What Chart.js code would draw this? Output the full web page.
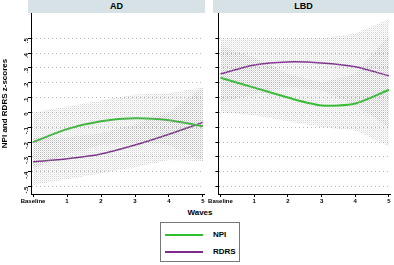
<!DOCTYPE html>
<html>
<head>
<meta charset="utf-8">
<script src="https://cdn.jsdelivr.net/npm/chart.js@4/dist/chart.umd.min.js"></script>
<style>
  body { margin: 0; background: #fff; font-family: "Liberation Sans", Arial, sans-serif; }
  #wrap { position: relative; width: 394px; height: 265px; overflow: hidden; }
  .strip {
    position: absolute; top: 0; height: 13px;
    background: #d6e2e6;
    font-weight: bold; font-size: 9px; line-height: 13px; text-align: center; color: #000;
  }
  #left { position: absolute; left: 0; top: 0; }
  #right { position: absolute; left: 207px; top: 0; }
  #waves { position: absolute; left: 170px; width: 60px; top: 208px; text-align: center; font-size: 8px; font-weight: bold; }
  #legend {
    position: absolute; left: 160px; top: 222px; width: 80px; height: 40px;
    border: 1px solid #777; box-sizing: border-box; font-size: 8px; font-weight: bold;
  }
  .item { position: absolute; left: 4px; height: 10px; line-height: 10px; }
  .item span.sw { position: absolute; left: 0; top: 4px; width: 38px; height: 2px; }
  .item span.tx { position: absolute; left: 48px; top: 0; }
</style>
</head>
<body>
<div id="wrap">
  <canvas id="left" width="207" height="205"></canvas>
  <canvas id="right" width="187" height="205"></canvas>
  <div class="strip" style="left:28px;width:177px;">AD</div>
  <div class="strip" style="left:213px;width:181px;">LBD</div>
  <div id="waves">Waves</div>
  <div id="legend">
    <div class="item" style="top:7px;"><span class="sw" style="background:#2fbf2f"></span><span class="tx">NPI</span></div>
    <div class="item" style="top:24px;"><span class="sw" style="background:#7d2a8c"></span><span class="tx">RDRS</span></div>
  </div>
</div>
<script>
// --- DATOS ---
const waves = [0, 1, 2, 3, 4, 5];
const waveLabels = ['Baseline', '1', '2', '3', '4', '5'];
const yTicks = [0.5, 0.4, 0.3, 0.2, 0.1, 0, -0.1, -0.2, -0.3, -0.4, -0.5];
const yTickLabels = ['.5', '.4', '.3', '.2', '.1', '0', '-.1', '-.2', '-.3', '-.4', '-.5'];

const adNpi = [-0.2, -0.113, -0.06, -0.04, -0.053, -0.093];
const adNpiLow = [-0.38, -0.28, -0.22, -0.2, -0.22, -0.33];
const adNpiHigh = [0.0, 0.04, 0.08, 0.12, 0.13, 0.17];
const adRdrs = [-0.333, -0.313, -0.28, -0.22, -0.147, -0.067];
const adRdrsLow = [-0.49, -0.45, -0.41, -0.37, -0.32, -0.33];
const adRdrsHigh = [-0.17, -0.17, -0.14, -0.08, 0.0, 0.17];

const lbdNpi = [0.233, 0.167, 0.1, 0.047, 0.06, 0.153];
const lbdNpiLow = [0.0, -0.02, -0.06, -0.1, -0.12, -0.23];
const lbdNpiHigh = [0.45, 0.37, 0.26, 0.2, 0.26, 0.52];
const lbdRdrs = [0.26, 0.32, 0.34, 0.333, 0.307, 0.247];
const lbdRdrsLow = [0.07, 0.12, 0.17, 0.15, 0.05, -0.1];
const lbdRdrsHigh = [0.5, 0.5, 0.5, 0.5, 0.53, 0.63];

const GREEN = '#2fbf2f';
const PURPLE = '#7d2a8c';

// patrón punteado para las bandas
function dotPattern() {
    const c = document.createElement('canvas');
    c.width = 2; c.height = 2;
    const g = c.getContext('2d');
    g.fillStyle = 'rgba(150,150,150,0.4)';
    g.fillRect(0, 0, 1, 1);
    g.fillStyle = 'rgba(150,150,150,0.15)';
    g.fillRect(1, 1, 1, 1);
    return g.createPattern(c, 'repeat');
}

const pts = (arr) => arr.map((v, i) => ({ x: waves[i], y: v }));

function band(low, high) {
    return [
        { data: pts(low), borderWidth: 0, pointRadius: 0, fill: false, tension: 0 },
        { data: pts(high), borderWidth: 0, pointRadius: 0, fill: '-1', backgroundColor: dotPattern(), tension: 0 }
    ];
}

function line(vals, color, w) {
    return { data: pts(vals), borderColor: color, borderWidth: w, pointRadius: 0, fill: false, tension: 0.25 };
}

const tickFont = { family: 'Liberation Sans', size: 6, weight: 'bold' };

function makeChart(id, sets, showY) {
    const ctx = document.getElementById(id).getContext('2d');
    return new Chart(ctx, {
        type: 'line',
        data: { datasets: sets },
        options: {
            responsive: false,
            animation: false,
            layout: { padding: { top: 13, right: showY ? 3 : 4, bottom: 0, left: 0 } },
            plugins: { legend: { display: false }, tooltip: { enabled: false } },
            scales: {
                x: {
                    type: 'linear', min: -0.06, max: 5.03,
                    afterBuildTicks: (s) => { s.ticks = waves.map(v => ({ value: v })); },
                    ticks: { callback: (v) => waveLabels[v], font: tickFont, color: '#000', maxRotation: 0, padding: 1 },
                    grid: { display: true, drawOnChartArea: false, color: '#000', tickLength: 3 },
                    border: { color: '#000', width: 1 },
                    afterFit: (s) => { s.height = 11; }
                },
                y: {
                    min: -0.55, max: 0.67,
                    afterBuildTicks: (s) => { s.ticks = yTicks.map(v => ({ value: v })); },
                    ticks: {
                        display: showY,
                        callback: (v) => yTickLabels[yTicks.findIndex(t => Math.abs(t - v) < 1e-6)],
                        font: tickFont, color: '#000', minRotation: 90, maxRotation: 90, padding: 2
                    },
                    grid: { color: '#b8b8b8', tickColor: '#000', tickLength: 3, tickBorderDash: [] },
                    border: { color: '#000', width: 1, dash: [1, 3] },
                    title: {
                        display: showY, text: 'NPI and RDRS z-scores',
                        font: { family: 'Liberation Sans', size: 8, weight: 'bold' }, color: '#000', padding: 0
                    },
                    afterFit: (s) => { s.width = showY ? 31 : 10; }
                }
            }
        }
    });
}

makeChart('left', [
    ...band(adNpiLow, adNpiHigh),
    ...band(adRdrsLow, adRdrsHigh),
    line(adNpi, GREEN, 2),
    line(adRdrs, PURPLE, 1.5)
], true);

makeChart('right', [
    ...band(lbdNpiLow, lbdNpiHigh),
    ...band(lbdRdrsLow, lbdRdrsHigh),
    line(lbdNpi, GREEN, 2),
    line(lbdRdrs, PURPLE, 1.5)
], false);
</script>
</body>
</html>
